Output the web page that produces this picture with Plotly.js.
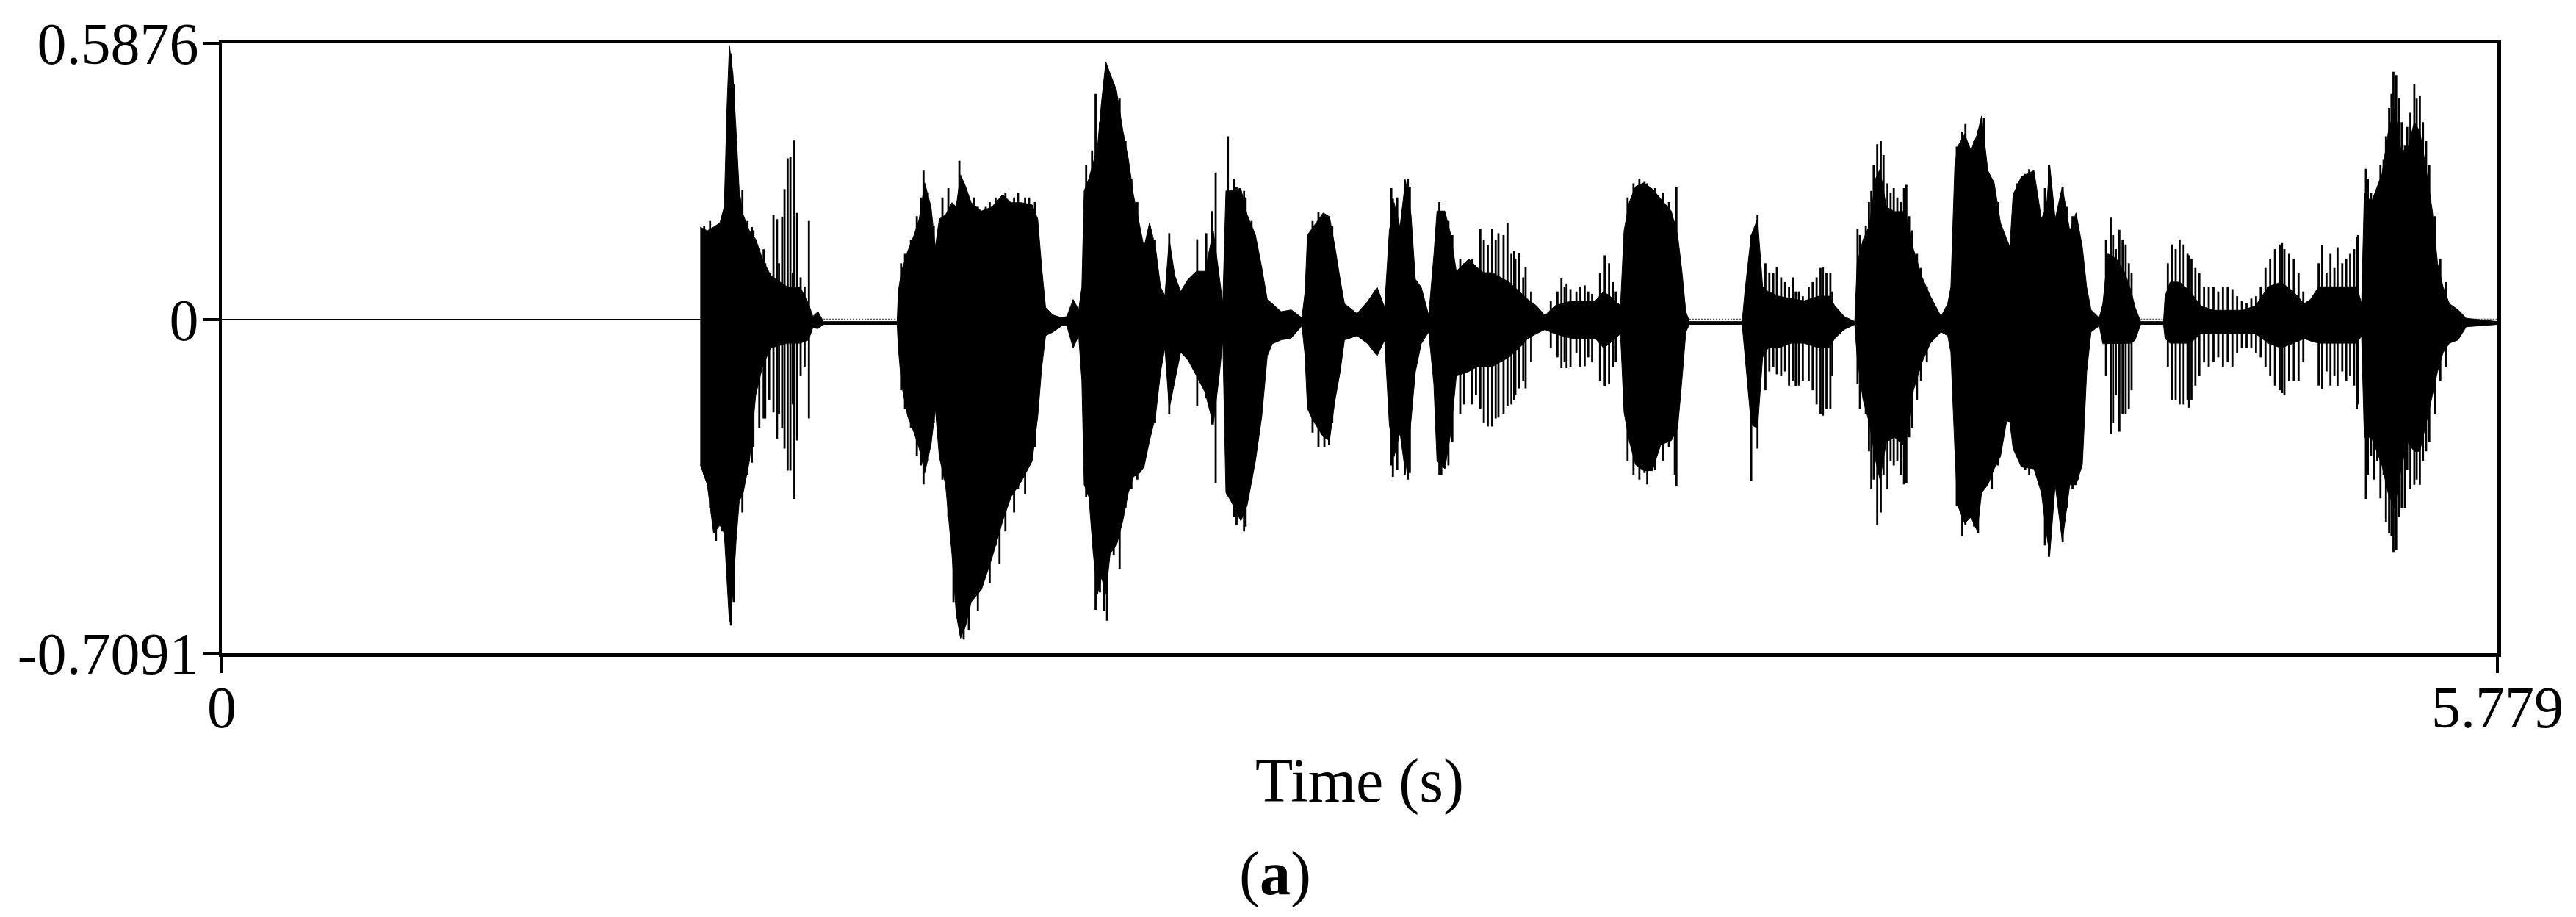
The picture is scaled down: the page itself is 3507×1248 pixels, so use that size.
<!DOCTYPE html>
<html>
<head>
<meta charset="utf-8">
<script src="https://cdn.plot.ly/plotly-3.0.1.min.js"></script>
<style>html,body{margin:0;padding:0;background:#fff}</style>
</head>
<body>
<div id="chart" style="width:3507px;height:1248px"></div>
<script>
// solid part of the waveform
var bodyT = [1.215,1.233,1.249,1.265,1.276,1.283,1.289,1.298,1.306,1.314,1.324,1.340,1.356,1.373,1.394,1.437,1.469,1.490,1.501,1.514,1.528,1.715,
  1.718,1.726,1.742,1.758,1.771,1.785,1.801,1.812,1.822,1.838,1.854,1.865,1.876,1.889,1.903,1.929,1.956,1.983,2.004,2.031,2.058,2.072,2.082,2.092,2.111,2.133,2.146,2.162,2.176,2.184,
  2.190,2.202,2.213,2.224,2.234,2.245,2.256,2.272,2.288,2.302,2.315,2.331,2.342,2.356,2.371,2.384,2.395,2.406,2.420,2.435,2.454,2.475,2.497,2.518,2.534,2.542,
  2.550,2.563,2.588,2.604,2.625,2.641,2.655,2.668,2.690,2.716,2.743,
  2.751,2.757,2.771,2.797,2.813,2.827,2.840,2.851,2.883,2.910,2.934,2.953,2.965,2.977,2.992,3.006,3.020,3.031,3.046,3.065,
  3.078,3.086,3.106,3.121,3.135,3.167,3.188,3.204,3.226,3.247,3.269,3.295,3.317,3.338,3.360,3.386,3.429,3.461,3.488,3.509,3.525,3.552,
  3.561,3.574,3.590,3.611,3.633,3.654,3.681,3.697,3.708,3.718,3.727,3.861,
  3.868,3.884,3.900,3.913,3.927,3.954,3.986,4.018,4.056,4.082,4.096,4.120,4.147,
  4.153,4.168,4.184,4.200,4.211,4.227,4.248,4.275,4.296,4.318,4.339,4.366,
  4.383,4.391,4.401,4.408,4.426,4.442,4.458,4.469,4.485,4.501,4.517,4.533,4.541,4.549,4.570,4.602,4.621,4.634,4.642,4.656,4.674,4.693,4.709,4.725,4.736,4.747,4.768,
  4.777,4.790,4.811,4.833,4.849,4.859,4.873,4.931,
  4.935,4.948,4.972,4.999,5.025,5.057,5.100,5.132,5.165,5.197,5.229,5.261,5.288,5.304,5.325,5.357,5.390,5.422,5.434,
  5.441,5.459,5.486,5.502,5.518,5.534,5.550,5.568,5.582,5.598,5.614,5.627,5.641,5.657,5.679,5.700,5.779];
var bodyHi = [.197,.189,.197,.206,.240,.454,.583,.523,.403,.274,.223,.189,.171,.129,.094,.069,.069,.034,.007,.017,-.004,-.004,
  .060,.103,.146,.180,.214,.291,.240,.154,.214,.223,.249,.240,.308,.283,.249,.231,.240,.266,.249,.249,.244,.214,.111,.026,.010,.004,.007,.043,.021,.069,
  .274,.300,.334,.368,.463,.548,.523,.488,.403,.343,.266,.197,.154,.206,.154,.069,.051,.171,.094,.060,.086,.103,.103,.189,.086,.034,
  .274,.274,.278,.223,.180,.111,.043,.034,.017,.021,.004,
  .060,.180,.197,.227,.219,.154,.086,.034,.013,.039,.069,.026,.189,.249,.197,.296,.223,.086,.069,.009,
  .137,.231,.231,.180,.103,.129,.111,.10,.10,.09,.08,.06,.043,.030,.009,.03,.04,.04,.04,.06,.05,.03,
  .189,.249,.283,.291,.278,.257,.231,.180,.103,.017,-.004,-.004,
  .060,.180,.214,.07,.06,.05,.045,.04,.05,.05,.03,.007,-.004,
  .12,.17,.20,.30,.32,.24,.23,.23,.15,.09,.05,.007,
  .034,.069,.326,.368,.394,.360,.394,.433,.317,.291,.206,.171,.154,.266,.304,.317,.214,.240,.330,.214,.283,.189,.227,.154,.069,.021,.004,
  .034,.14,.13,.10,.06,.026,-.004,-.004,
  .05,.08,.08,.06,.03,.02,.02,.02,.03,.07,.08,.06,.034,.043,.07,.07,.07,.07,.034,
  .27,.25,.31,.40,.45,.36,.36,.42,.40,.32,.23,.12,.07,.034,.021,.003,-.004];
var bodyLo = [-.308,-.351,-.454,-.437,-.454,-.557,-.643,-.583,-.471,-.386,-.368,-.300,-.16,-.10,-.06,-.05,-.05,-.043,-.017,-.019,-.010,-.010,
  -.060,-.137,-.206,-.240,-.274,-.326,-.266,-.189,-.291,-.351,-.497,-.626,-.677,-.651,-.600,-.574,-.506,-.428,-.377,-.343,-.300,-.206,-.103,-.034,-.026,-.013,-.013,-.060,-.034,-.129,
  -.351,-.377,-.497,-.583,-.548,-.583,-.497,-.480,-.428,-.368,-.334,-.326,-.313,-.257,-.206,-.111,-.060,-.189,-.129,-.069,-.086,-.120,-.154,-.223,-.111,-.043,
  -.368,-.386,-.428,-.394,-.300,-.206,-.077,-.051,-.043,-.039,-.013,
  -.077,-.189,-.214,-.249,-.257,-.171,-.111,-.043,-.034,-.051,-.077,-.043,-.223,-.291,-.240,-.326,-.214,-.111,-.051,-.026,
  -.137,-.300,-.317,-.240,-.12,-.11,-.10,-.10,-.10,-.09,-.08,-.06,-.04,-.03,-.021,-.03,-.04,-.04,-.04,-.06,-.05,-.03,
  -.197,-.257,-.308,-.321,-.321,-.266,-.257,-.231,-.129,-.026,-.010,-.010,
  -.069,-.223,-.231,-.08,-.06,-.06,-.05,-.05,-.06,-.06,-.04,-.021,-.010,
  -.08,-.17,-.22,-.30,-.34,-.26,-.25,-.27,-.15,-.09,-.05,-.026,
  -.034,-.069,-.274,-.394,-.433,-.420,-.449,-.368,-.351,-.317,-.291,-.214,-.219,-.274,-.313,-.317,-.368,-.454,-.501,-.351,-.471,-.351,-.351,-.308,-.111,-.026,-.013,
  -.051,-.05,-.05,-.05,-.05,-.043,-.010,-.010,
  -.04,-.05,-.05,-.05,-.03,-.03,-.03,-.03,-.03,-.05,-.06,-.05,-.04,-.045,-.05,-.05,-.05,-.05,-.034,
  -.25,-.25,-.31,-.37,-.40,-.32,-.26,-.28,-.28,-.22,-.16,-.11,-.07,-.05,-.043,-.015,-.010];

// single strokes that stick out of the solid part
var spikeT = [1.225,1.24,1.255,1.27,1.293,1.30,1.322,1.335,1.346,1.35,1.365,1.376,1.38,1.39,1.401,1.410,1.415,1.423,1.429,1.437,1.444,1.45,1.454,1.461,1.47,1.48,1.491,
  1.725,1.735,1.75,1.765,1.775,1.782,1.793,1.808,1.83,1.845,1.858,1.873,1.884,1.897,1.91,1.92,1.94,1.95,1.965,1.975,1.99,2.012,2.022,2.04,2.05,2.065,
  2.195,2.21,2.219,2.23,2.24,2.248,2.265,2.28,2.295,2.31,2.325,2.37,2.406,2.477,2.500,2.514,2.524,2.555,2.57,2.577,2.585,2.596,2.60,2.615,
  2.77,2.785,2.80,2.812,2.82,2.97,2.974,2.985,3.004,3.012,3.017,3.092,3.097,3.115,3.125,
  3.145,3.155,3.175,3.185,3.196,3.205,3.215,3.226,3.235,3.242,3.255,3.265,3.275,3.282,3.285,3.295,3.305,3.311,3.325,
  3.375,3.392,3.402,3.41,3.415,3.425,3.44,3.45,3.461,3.47,3.48,3.50,3.512,3.523,3.533,3.54,
  3.57,3.585,3.60,3.613,3.62,3.64,3.66,3.675,3.69,3.694,
  3.884,3.900,3.92,3.93,3.94,3.949,3.96,3.97,3.98,3.99,3.997,4.005,4.015,4.03,4.04,4.05,4.06,4.066,4.075,4.085,4.09,
  4.154,4.16,4.175,4.183,4.189,4.195,4.204,4.213,4.22,4.23,4.238,4.246,4.255,4.265,4.272,4.278,4.285,4.293,4.305,4.315,4.33,
  4.406,4.42,4.428,4.45,4.460,4.475,4.495,4.51,4.56,4.58,4.59,4.63,4.640,4.65,4.675,4.685,4.70,4.715,
  4.785,4.797,4.803,4.81,4.819,4.827,4.835,4.843,4.85,
  4.942,4.952,4.962,4.972,4.982,4.992,4.996,5.002,5.012,5.022,5.034,5.046,5.058,5.07,5.082,5.094,5.106,5.118,5.13,5.142,5.154,5.166,5.178,5.19,5.202,5.214,5.226,5.232,5.238,5.25,5.262,5.274,5.286,
  5.325,5.334,5.345,5.355,5.365,5.373,5.385,5.395,5.405,5.415,5.422,5.425,
  5.445,5.45,5.458,5.466,5.474,5.482,5.49,5.496,5.504,5.51,5.515,5.522,5.529,5.536,5.544,5.55,5.558,5.568,5.574,5.582,5.59,5.598,5.606,5.62,5.634,5.648];
var spikeHi = [.20,.21,.20,.22,.566,.50,.276,.21,.197,.19,.15,.150,.12,.10,.223,.214,.12,.219,.278,.343,.347,.10,.381,.227,.09,.07,.210,
  .12,.14,.17,.22,.26,.317,.27,.20,.26,.28,.24,.338,.29,.257,.26,.24,.24,.25,.26,.25,.27,.26,.27,.26,.26,.25,
  .330,.36,.480,.42,.50,.540,.50,.47,.38,.30,.25,.17,.184,.171,.184,.231,.313,.390,.30,.283,.28,.274,.26,.21,
  .21,.23,.22,.219,.20,.28,.257,.26,.298,.30,.283,.25,.231,.21,.18,
  .13,.12,.13,.11,.193,.17,.159,.193,.17,.184,.18,.206,.14,.146,.13,.141,.09,.111,.06,
  .04,.06,.088,.07,.077,.065,.06,.07,.073,.06,.055,.10,.137,.120,.08,.06,
  .26,.29,.30,.293,.29,.28,.27,.25,.21,.283,
  .180,.223,.12,.10,.10,.111,.09,.08,.07,.09,.060,.06,.05,.07,.08,.09,.11,.111,.10,.10,.06,
  .193,.18,.20,.25,.274,.33,.373,.38,.35,.29,.27,.28,.26,.25,.28,.287,.22,.19,.14,.11,.07,
  .368,.40,.416,.38,.403,.43,.30,.25,.29,.31,.32,.28,.330,.25,.283,.24,.22,.20,
  .17,.217,.18,.15,.191,.17,.16,.12,.10,
  .12,.16,.15,.17,.16,.14,.137,.13,.11,.10,.07,.07,.07,.06,.07,.07,.065,.05,.04,.035,.045,.05,.07,.11,.13,.15,.16,.163,.15,.14,.13,.10,.06,
  .12,.159,.10,.14,.11,.154,.12,.13,.14,.15,.176,.18,
  .321,.30,.27,.26,.27,.33,.34,.39,.450,.48,.527,.52,.471,.42,.37,.41,.44,.501,.47,.476,.42,.38,.33,.22,.13,.08];
var spikeLo = [-.33,-.40,-.47,-.45,-.650,-.60,-.410,-.33,-.304,-.27,-.23,-.210,-.21,-.17,-.197,-.253,-.20,-.231,-.274,-.321,-.321,-.18,-.381,-.257,-.12,-.10,-.210,
  -.15,-.19,-.23,-.29,-.31,-.350,-.30,-.22,-.34,-.42,-.60,-.640,-.68,-.660,-.59,-.62,-.51,-.56,-.48,-.52,-.45,-.41,-.36,-.37,-.31,-.27,
  -.377,-.44,-.617,-.58,-.62,-.640,-.50,-.53,-.40,-.36,-.34,-.22,-.201,-.184,-.167,-.223,-.347,-.373,-.42,-.437,-.42,-.450,-.44,-.34,
  -.24,-.27,-.27,-.266,-.22,-.31,-.334,-.32,-.330,-.34,-.326,-.33,-.330,-.31,-.26,
  -.20,-.18,-.18,-.16,-.189,-.22,-.227,-.227,-.21,-.208,-.20,-.184,-.18,-.171,-.16,-.146,-.13,-.146,-.09,
  -.06,-.08,-.103,-.09,-.103,-.10,-.07,-.10,-.099,-.08,-.09,-.13,-.141,-.137,-.10,-.09,
  -.30,-.33,-.34,-.326,-.35,-.32,-.30,-.27,-.33,-.354,
  -.343,-.274,-.15,-.11,-.10,-.116,-.12,-.11,-.14,-.13,-.141,-.14,-.13,-.13,-.15,-.18,-.20,-.204,-.19,-.19,-.12,
  -.137,-.19,-.20,-.28,-.360,-.34,-.437,-.41,-.33,-.36,-.30,-.31,-.30,-.33,-.35,-.347,-.25,-.23,-.17,-.13,-.09,
  -.396,-.46,-.437,-.44,-.454,-.36,-.36,-.31,-.29,-.32,-.33,-.48,-.504,-.40,-.473,-.40,-.36,-.34,
  -.12,-.243,-.22,-.16,-.238,-.20,-.20,-.19,-.15,
  -.10,-.17,-.17,-.18,-.18,-.17,-.187,-.17,-.14,-.12,-.09,-.10,-.09,-.08,-.10,-.09,-.10,-.07,-.06,-.06,-.06,-.07,-.08,-.10,-.12,-.14,-.15,-.156,-.16,-.13,-.13,-.13,-.09,
  -.14,-.147,-.11,-.14,-.12,-.141,-.11,-.13,-.12,-.14,-.190,-.18,
  -.381,-.33,-.29,-.34,-.30,-.38,-.33,-.43,-.454,-.46,-.494,-.49,-.420,-.40,-.40,-.32,-.36,-.351,-.34,-.351,-.30,-.28,-.26,-.20,-.13,-.10];

// quiet stretches
var leadT = [0, 1.215];
var leadY = [0, 0];
var quietStart = [1.528, 3.727, 4.873, 5.700];
var quietEnd = [1.715, 3.861, 4.931, 5.779];
var quietTop = 0.001;

var yTicks = [0.5876, 0, -0.7091];
var yLabels = ['0.5876', '0', '-0.7091'];
var xTicks = [0, 5.779];
var xLabels = ['0', '5.779'];

var serif = '"Liberation Serif", serif';

var body = {
  x: bodyT.concat(bodyT.slice().reverse()),
  y: bodyHi.concat(bodyLo.slice().reverse()),
  mode: 'lines',
  fill: 'toself',
  fillcolor: '#000',
  line: {color: '#000', width: 1},
  hoverinfo: 'skip'
};

var sx = [], sy = [];
for (var i = 0; i < spikeT.length; i++) {
  sx.push(spikeT[i], spikeT[i], null);
  sy.push(spikeHi[i], spikeLo[i], null);
}
var spikes = {x: sx, y: sy, mode: 'lines', line: {color: '#000', width: 2.8}, hoverinfo: 'skip'};

var lead = {x: leadT, y: leadY, mode: 'lines', line: {color: '#000', width: 2}, hoverinfo: 'skip'};

var qx = [], qy = [];
for (var j = 0; j < quietStart.length; j++) {
  qx.push(quietStart[j], quietEnd[j], null);
  qy.push(quietTop, quietTop, null);
}
var quiet = {x: qx, y: qy, mode: 'lines', line: {color: '#555', width: 1.5, dash: '2px,2px'}, hoverinfo: 'skip'};

var layout = {
  width: 3507,
  height: 1248,
  showlegend: false,
  paper_bgcolor: '#fff',
  plot_bgcolor: '#fff',
  margin: {l: 302, r: 107, t: 59, b: 359, pad: 0},
  font: {family: serif, color: '#000', size: 80},
  xaxis: {
    range: [0, 5.779],
    tickmode: 'array',
    tickvals: xTicks,
    ticktext: xLabels,
    ticks: 'outside',
    ticklen: 22,
    tickwidth: 4.5,
    tickcolor: '#000',
    ticklabelstandoff: -22,
    tickfont: {family: serif, size: 80, color: '#000'},
    showgrid: false,
    zeroline: false,
    showline: true,
    linecolor: '#000',
    linewidth: 4.5,
    mirror: true,
    title: {text: 'Time (s)', font: {family: serif, size: 84, color: '#000'}, standoff: 28}
  },
  yaxis: {
    range: [-0.7091, 0.5876],
    tickmode: 'array',
    tickvals: yTicks,
    ticktext: yLabels,
    ticks: 'outside',
    ticklen: 22,
    tickwidth: 4.5,
    tickcolor: '#000',
    ticklabelstandoff: -11,
    tickfont: {family: serif, size: 80, color: '#000'},
    showgrid: false,
    zeroline: false,
    showline: true,
    linecolor: '#000',
    linewidth: 4.5,
    mirror: true
  },
  annotations: [{
    text: '(<b>a</b>)',
    xref: 'paper', yref: 'paper',
    x: 0.463,
    y: -0.361,
    xanchor: 'center',
    yanchor: 'middle',
    showarrow: false,
    font: {family: serif, size: 84, color: '#000'}
  }]
};

Plotly.newPlot('chart', [lead, quiet, body, spikes], layout, {displayModeBar: false, staticPlot: true});
</script>
</body>
</html>
